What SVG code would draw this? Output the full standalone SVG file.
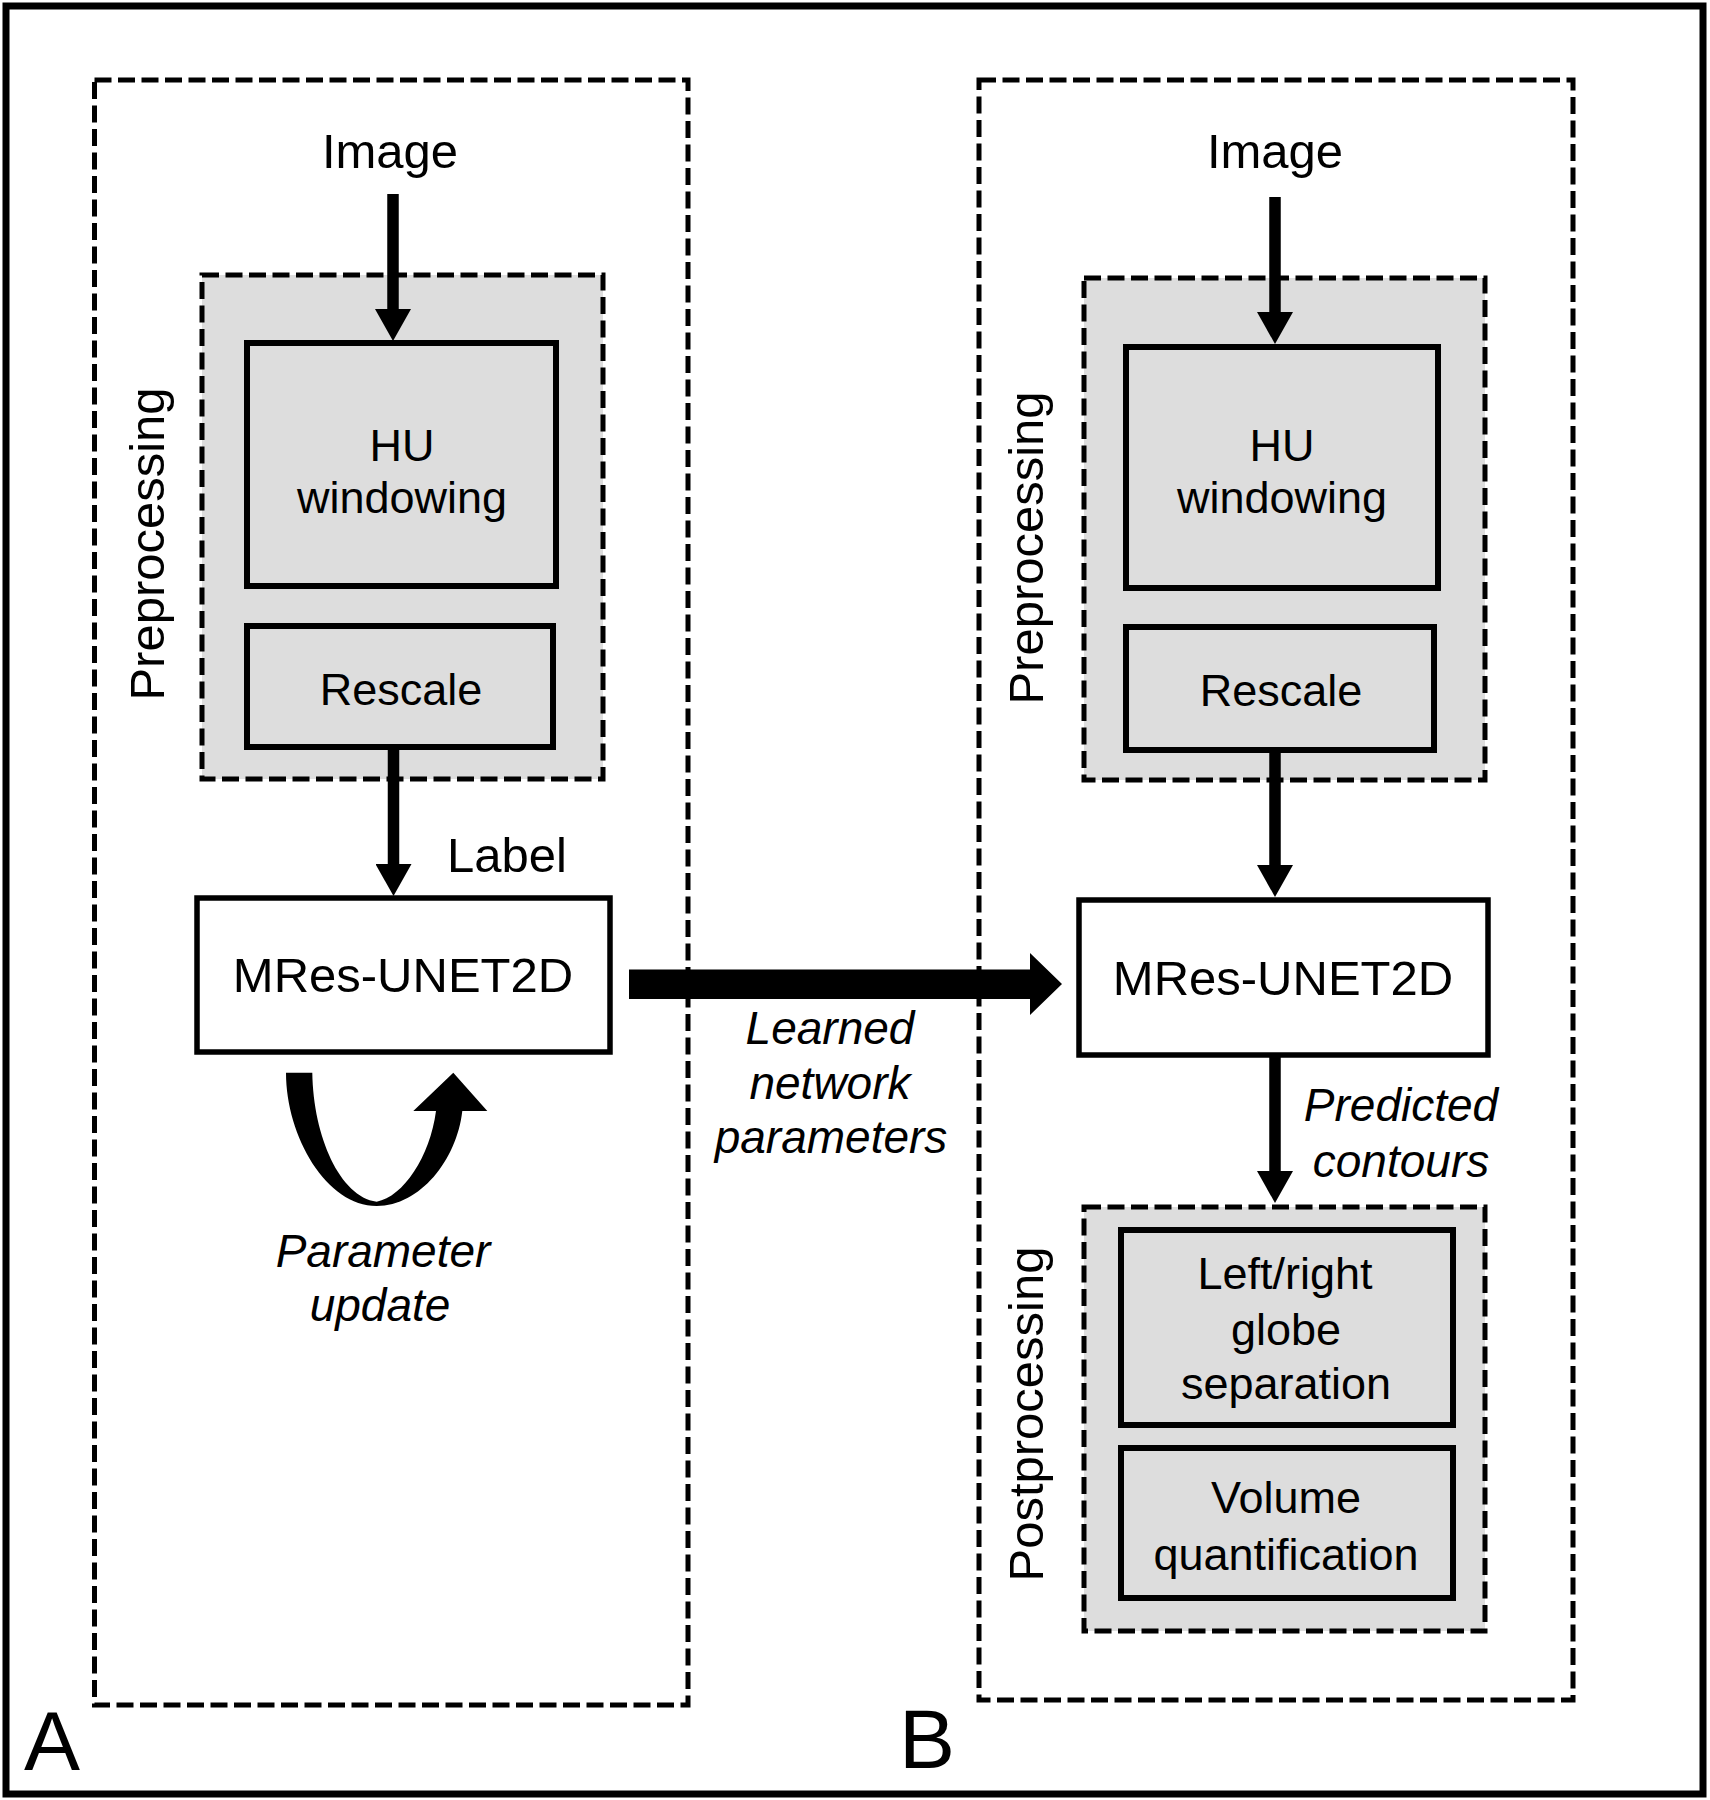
<svg xmlns="http://www.w3.org/2000/svg" width="1710" height="1800" viewBox="0 0 1710 1800">
<defs>
<style>
text{font-family:"Liberation Sans",Arial,Helvetica,sans-serif;fill:#000}
.t49{font-size:49px}
.t45{font-size:45px}
.it{font-size:46px;font-style:italic}
.big{font-size:84px}
.mid{text-anchor:middle}
.dash{fill:none;stroke:#000;stroke-width:5;stroke-dasharray:17 6.5}
.gdash{fill:#dddddd;stroke:#000;stroke-width:5;stroke-dasharray:17 6.5}
.gbox{fill:#dddddd;stroke:#000;stroke-width:6}
.wbox{fill:#fff;stroke:#000;stroke-width:5.5}
.shaft{stroke:#000;stroke-width:11.5;fill:none}
</style>
<marker id="ah" viewBox="0 0 32 36" refX="1" refY="18" markerWidth="32" markerHeight="36" markerUnits="userSpaceOnUse" orient="auto">
<path d="M0,0 L32,18 L0,36 Z" fill="#000"/>
</marker>
</defs>
<rect width="1710" height="1800" fill="#fff"/>
<rect id="frame" x="6" y="6" width="1697" height="1788" fill="none" stroke="#000" stroke-width="7"/>

<g id="panelA">
<rect class="dash" x="94.5" y="80" width="593.5" height="1625"/>
<text class="big" x="24" y="1770">A</text>
</g>
<g id="panelB">
<rect class="dash" x="979" y="80" width="594" height="1620"/>
<text class="big" x="899" y="1768">B</text>
</g>

<g id="preA">
<rect class="gdash" x="202" y="275" width="401" height="504"/>
<text class="t49 mid" transform="translate(164,544) rotate(-90)">Preprocessing</text>
</g>
<g id="preB">
<rect class="gdash" x="1084" y="278" width="401" height="502"/>
<text class="t49 mid" transform="translate(1043,548) rotate(-90)">Preprocessing</text>
</g>
<g id="postB">
<rect class="gdash" x="1084" y="1207" width="401" height="424"/>
<text class="t49 mid" transform="translate(1043,1414) rotate(-90)">Postprocessing</text>
</g>

<g id="imageA"><text class="t49 mid" x="390" y="168">Image</text></g>
<g id="imageB"><text class="t49 mid" x="1275" y="168">Image</text></g>

<g id="huA">
<rect class="gbox" x="247" y="343" width="309" height="243"/>
<text class="t45 mid" x="402" y="461">HU</text>
<text class="t45 mid" x="402" y="513">windowing</text>
</g>
<g id="rescaleA">
<rect class="gbox" x="247" y="626" width="306" height="121"/>
<text class="t45 mid" x="401" y="705">Rescale</text>
</g>
<g id="huB">
<rect class="gbox" x="1126" y="347" width="312" height="241"/>
<text class="t45 mid" x="1282" y="461">HU</text>
<text class="t45 mid" x="1282" y="513">windowing</text>
</g>
<g id="rescaleB">
<rect class="gbox" x="1126" y="627" width="308" height="123"/>
<text class="t45 mid" x="1281" y="706">Rescale</text>
</g>

<g id="labelA"><text class="t49" x="447" y="872">Label</text></g>

<g id="mresA">
<rect class="wbox" x="197" y="898" width="413" height="154"/>
<text class="t49 mid" x="403" y="992">MRes-UNET2D</text>
</g>
<g id="mresB">
<rect class="wbox" x="1079" y="900" width="409" height="155"/>
<text class="t49 mid" x="1283" y="995">MRes-UNET2D</text>
</g>

<g id="sepB">
<rect class="gbox" x="1121" y="1230" width="332" height="195"/>
<text class="t45 mid" x="1285" y="1289">Left/right</text>
<text class="t45 mid" x="1286" y="1345">globe</text>
<text class="t45 mid" x="1286" y="1399">separation</text>
</g>
<g id="volB">
<rect class="gbox" x="1121" y="1448" width="332" height="150"/>
<text class="t45 mid" x="1286" y="1513">Volume</text>
<text class="t45 mid" x="1286" y="1570">quantification</text>
</g>

<g id="connectors">
<line class="shaft" x1="393" y1="194" x2="393" y2="310" marker-end="url(#ah)"/>
<line class="shaft" x1="393.5" y1="747" x2="393.5" y2="865" marker-end="url(#ah)"/>
<line class="shaft" x1="1275" y1="197" x2="1275" y2="313" marker-end="url(#ah)"/>
<line class="shaft" x1="1275" y1="750" x2="1275" y2="866" marker-end="url(#ah)"/>
<line class="shaft" x1="1275" y1="1055" x2="1275" y2="1172" marker-end="url(#ah)"/>
<path id="transfer" d="M629,969.5 L1030,969.5 L1030,953 L1062,984 L1030,1015 L1030,999 L629,999 Z" fill="#000"/>
<path id="loop" d="M286,1072.7 C286,1136.7 326.7,1206 376.7,1206 C420,1206 456.7,1160 462.3,1111 L487.3,1111 L453.3,1072.7 L413.3,1111 L436,1111 C430,1156.7 403.3,1196.7 376.7,1201.7 C340,1196.7 313.3,1136.7 312.3,1072.7 Z" fill="#000"/>
</g>

<g id="labels">
<text class="it mid" x="830" y="1044">Learned</text>
<text class="it mid" x="830" y="1099">network</text>
<text class="it mid" x="831" y="1153">parameters</text>
<text class="it mid" x="383" y="1267">Parameter</text>
<text class="it mid" x="380" y="1321">update</text>
<text class="it mid" x="1401" y="1121">Predicted</text>
<text class="it mid" x="1401" y="1177">contours</text>
</g>
</svg>
